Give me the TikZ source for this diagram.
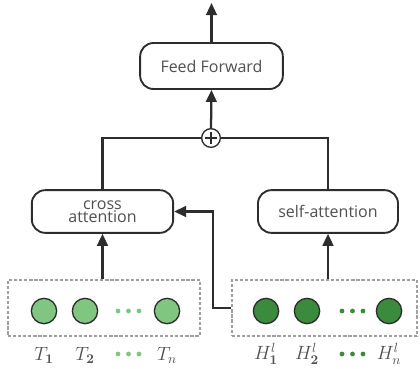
\documentclass[tikz,border=0pt]{standalone}
\usepackage[no-math]{fontspec}
\setmainfont{Open Sans}
\usetikzlibrary{arrows.meta}

\definecolor{lightg}{RGB}{128,198,128}
\definecolor{darkg}{RGB}{58,140,60}
\definecolor{txtgray}{RGB}{80,80,80}
\definecolor{linegray}{RGB}{45,45,45}

\tikzset{every picture/.style={line width=0.75pt}}
\tikzset{
  block/.style={draw=linegray, line width=1.4pt, rounded corners=10pt, fill=white,
    text=txtgray, align=center, font=\fontsize{12}{13}\selectfont},
  tokbox/.style={draw=gray!75, dashed, dash pattern=on 2.4pt off 1.4pt, line width=1.2pt,
    minimum height=42pt},
  tok/.style={circle, draw=linegray, line width=1pt, minimum size=19pt, inner sep=0pt},
  lab/.style={text=txtgray, font=\fontsize{14}{16}\selectfont},
  conn/.style={draw=linegray, line width=1.7pt},
  arr/.style={conn, -{Triangle[length=9pt,width=8pt]}}
}

\begin{document}
\begin{tikzpicture}[x=0.75pt,y=0.75pt,yscale=-1,xscale=1]
	\useasboundingbox (0,0) rectangle (420,368);

	% Token groups
	\node [tokbox, minimum width=144pt] (tbox) at (104,308) {};
	\node [tokbox, minimum width=139pt] (hbox) at (324.5,308) {};

	% T tokens
	\node [tok, fill=lightg] (t1) at (44,311) {};
	\node [tok, fill=lightg] (t2) at (85,311) {};
	\node [tok, fill=lightg] (tn) at (167,311) {};
	\foreach \x in {118,128.5,139} \fill [lightg] (\x,311) circle (2.4);

	% H tokens
	\node [tok, fill=darkg] (h1) at (266,311) {};
	\node [tok, fill=darkg] (h2) at (307,311) {};
	\node [tok, fill=darkg] (hn) at (389,311) {};
	\foreach \x in {342,352.5,363} \fill [darkg] (\x,311) circle (2.4);

	% Labels
	\node [lab] (lt1) at (44,355) {$T_{\mathbf{1}}$};
	\node [lab] (lt2) at (85,355) {$T_{\mathbf{2}}$};
	\node [lab] (ltn) at (167,355) {$T_n$};
	\foreach \x in {118,128.5,139} \fill [lightg] (\x,354) circle (2.4);
	\node [lab] (lh1) at (266,354) {$H^{l}_{\mathbf{1}}$};
	\node [lab] (lh2) at (307,354) {$H^{l}_{\mathbf{2}}$};
	\node [lab] (lhn) at (389,354) {$H^{l}_{n}$};
	\foreach \x in {342,352.5,363} \fill [darkg] (\x,354) circle (2.4);

	% Attention blocks
	\node [block, minimum width=106pt, minimum height=32pt, inner sep=1pt] (cross) at (102.5,211.5) {cross\\[-3pt]attention};
	\node [block, minimum width=105pt, minimum height=32pt] (self) at (328,211.5) {self-attention};

	% Add and feed forward
	\node [circle, draw=linegray, line width=1pt, fill=white, minimum size=14pt, inner sep=0pt] (plus) at (211,138) {};
	\draw [linegray, line width=0.9pt] ([xshift=-4.5pt]plus.center) -- ([xshift=4.5pt]plus.center)
	  ([yshift=-4.5pt]plus.center) -- ([yshift=4.5pt]plus.center);
	\node [block, minimum width=107pt, minimum height=34.5pt] (ff) at (211.5,66) {Feed Forward};
	\coordinate (out) at (211.5,3);
	\coordinate (bend) at (213,308);

	% Connectors
	\draw [arr] (tbox.north -| cross) -- (cross.south);
	\draw [arr] (hbox.north -| self) -- (self.south);
	\draw [arr] (hbox.west) -- (bend) |- (cross.east);
	\draw [conn] (cross.north) |- (plus.west);
	\draw [conn] (self.north) |- (plus.east);
	\draw [arr] (plus.north) -- (ff.south);
	\draw [arr] (ff.north) -- (out);

\end{tikzpicture}
\end{document}
